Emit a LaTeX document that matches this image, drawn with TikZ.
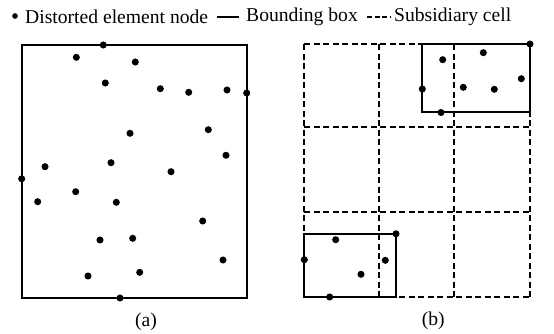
\documentclass[tikz,border=0pt]{standalone}
\usepackage{fontspec}
\setmainfont{Liberation Serif}
\begin{document}
\begin{tikzpicture}[x=1pt,y=-1pt,font=\fontsize{19.6}{23}\selectfont]
	\tikzset{box/.style={line width=2pt},
		cell/.style={line width=1.8pt,dash pattern=on 6pt off 3.5pt},
		dot/.style={circle,fill,inner sep=2.5pt},
		label/.style={inner sep=0pt,anchor=west}}
	\useasboundingbox (0,0) rectangle (554,333);
	% legend
	\node[circle,fill,inner sep=2pt] (L1) at (15,16) {};
	\node[label] (T1) at (25,17) {Distorted element node};
	\coordinate (S1) at (216.7,17);
	\coordinate (S2) at (239.3,17);
	\draw[box,line width=2.5pt] (S1) -- (S2);
	\node[label] (T2) at (246,17) {Bounding box};
	\coordinate (D1) at (367,17);
	\coordinate (D2) at (391,17);
	\draw[cell,dash pattern=on 5pt off 2.5pt] (D1) -- (D2);
	\node[label] (T3) at (394,17) {Subsidiary cell};
	% (a)
	\draw[box] (21.7,45) rectangle (246.7,297.7);
	\begin{scope}[every node/.style={dot}]
	\node (a1) at (103.3,45) {};
	\node (a2) at (76.3,57.3) {};
	\node (a3) at (135.3,62) {};
	\node (a4) at (105.3,83) {};
	\node (a5) at (160.3,88.7) {};
	\node (a6) at (188.7,92.3) {};
	\node (a7) at (227,90) {};
	\node (a8) at (246.7,93) {};
	\node (a9) at (130,133.3) {};
	\node (a10) at (208.3,129.7) {};
	\node (a11) at (226,155.3) {};
	\node (a12) at (45,166.7) {};
	\node (a13) at (111,162.7) {};
	\node (a14) at (171,171.7) {};
	\node (a15) at (21.7,178.8) {};
	\node (a16) at (75.7,191.7) {};
	\node (a17) at (37.7,201.7) {};
	\node (a18) at (116.3,202.3) {};
	\node (a19) at (202.7,221) {};
	\node (a20) at (100,240) {};
	\node (a21) at (132.7,238.3) {};
	\node (a22) at (223,260) {};
	\node (a23) at (88,276) {};
	\node (a24) at (139.7,272.3) {};
	\node (a25) at (120,298) {};
	\end{scope}
	\node (capa) at (146,321.5) {(a)};
	% (b)
	\draw[cell] (304.3,44) -- (530,44);
	\draw[cell] (304.3,126.7) -- (530,126.7);
	\draw[cell] (304.3,212.3) -- (530,212.3);
	\draw[cell] (304.3,296.7) -- (530,296.7);
	\draw[cell] (304.3,44) -- (304.3,296.7);
	\draw[cell] (379.3,44) -- (379.3,296.7);
	\draw[cell] (454.3,44) -- (454.3,296.7);
	\draw[cell] (530,44) -- (530,296.7);
	\draw[box] (422.3,44) rectangle (530,112.3);
	\draw[box] (304.3,233.8) rectangle (396,296.7);
	\begin{scope}[every node/.style={dot}]
	\node (b1) at (530,44) {};
	\node (b2) at (442.7,59.7) {};
	\node (b3) at (483.3,52.7) {};
	\node (b4) at (422.3,89) {};
	\node (b5) at (463.3,87.3) {};
	\node (b6) at (494.3,89.3) {};
	\node (b7) at (521.3,78.7) {};
	\node (b8) at (441,112.5) {};
	\node (b9) at (396,233.8) {};
	\node (b10) at (335.7,239.7) {};
	\node (b11) at (304.3,259.7) {};
	\node (b12) at (385.3,260.3) {};
	\node (b13) at (361,274.3) {};
	\node (b14) at (329.7,297) {};
	\end{scope}
	\node (capb) at (433.3,320.5) {(b)};
\end{tikzpicture}
\end{document}
